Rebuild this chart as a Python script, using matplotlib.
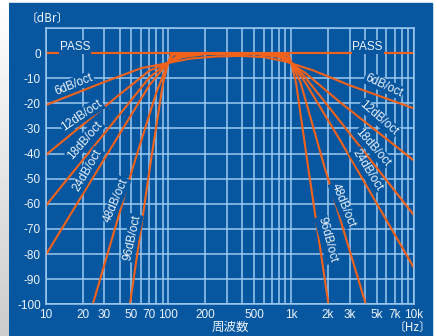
import numpy as np
import matplotlib
matplotlib.use('Agg')
import matplotlib.pyplot as plt
from matplotlib.patches import Rectangle

# filter slopes (dB/oct) and the curves
slopes = [6, 12, 18, 24, 48, 96]

curve_hz = [
    [10, 30, 60, 100, 150, 250, 400, 600, 900, 1500, 3000, 10000],
    [10, 40, 70, 100, 130, 200, 500, 800, 950, 1300, 2500, 10000],
    [10, 40, 70, 100, 125, 200, 600, 850, 1000, 1300, 2500, 10000],
    [10, 40, 70, 100, 120, 200, 700, 880, 1000, 1300, 2500, 10000],
    [24.2, 51.8, 80, 100, 110, 200, 800, 930, 1000, 1200, 1863, 4070],
    [48.6, 71, 90, 100, 105, 200, 900, 960, 1000, 1100, 1374, 2020],
]
curve_db = [
    [-20.7, -11.5, -6.0, -3.9, -2.2, -1.3, -1.1, -1.6, -3.3, -6.8, -12.8, -22.0],
    [-40.6, -16.5, -7.0, -3.8, -1.6, -0.4, -0.3, -1.5, -3.5, -7.8, -19.5, -42.7],
    [-60.8, -24.5, -9.7, -3.6, -1.2, -0.1, -0.2, -1.5, -3.6, -9.5, -27.0, -64.4],
    [-80.4, -32.2, -12.8, -3.6, -0.9, 0.0, 0.0, -1.3, -3.6, -11.5, -34.5, -85.3],
    [-100, -44.9, -15.5, -3.6, -0.5, 0.0, 0.0, -0.8, -3.6, -12.0, -44.9, -100],
    [-100, -44.9, -12.5, -3.6, -0.5, 0.0, 0.0, -0.8, -3.6, -12.0, -44.9, -100],
]

pass_hz = [10, 10000]
pass_db = [0, 0]

# label positions (Hz, dB, rotation) for the slope texts
left_lab_hz = [17.0, 19.8, 20.9, 22.1, 37.4, 50.5]
left_lab_db = [-12.4, -24.8, -34.7, -46.6, -58.5, -73.6]
left_lab_rot = [22, 34, 49, 60, 67, 78]
right_lab_hz = [5715, 5200, 4647, 4155, 2650, 1963]
right_lab_db = [-12.8, -26.0, -37.5, -46.6, -60.5, -74.4]
right_lab_rot = [-25, -41, -49, -58, -68, -75]

grid_hz = [m * 10 ** d for d in (1, 2, 3) for m in range(1, 10)] + [10000]
tick_labels = {10: '10', 20: '20', 30: '30', 50: '50', 70: '70', 100: '100',
               200: '200', 500: '500', 1000: '1k', 2000: '2k', 3000: '3k',
               5000: '5k', 7000: '7k', 10000: '10k'}
db_ticks = list(range(0, -101, -10))

blue = '#0756a0'
orange = '#f2621a'
gridc = '#9dcaf0'
txt = '#eef4fb'
font = 'Liberation Sans'
cjk = ['Noto Sans CJK JP', 'DejaVu Sans']

fig = plt.figure(figsize=(4.36, 3.36), dpi=100, facecolor='white')

# blue panel and grey strip at the left
fig.patches.append(Rectangle((8 / 436, 0), 424 / 436, 333 / 336,
                             transform=fig.transFigure, color=blue, zorder=-10))
strip = fig.add_axes([0, 0, 8 / 436, 1])
grad = np.linspace(1.0, 0.8, 100).reshape(-1, 1)
strip.imshow(grad, cmap='gray', vmin=0, vmax=1, aspect='auto')
strip.axis('off')

ax = fig.add_axes([45.7 / 436, 1 - 304.3 / 336, 368 / 436, 276.3 / 336])
ax.set_zorder(5)
ax.set_facecolor(blue)
ax.set_xscale('log')
ax.set_xlim(10, 10000)
ax.set_ylim(-100, 10)

ax.set_xticks(grid_hz)
ax.set_xticklabels([tick_labels.get(int(round(f)), '') for f in grid_hz])
ax.minorticks_off()
ax.set_yticks(db_ticks + [10])
ax.set_yticklabels([str(v) for v in db_ticks] + [''])
ax.tick_params(length=0, colors=txt, labelsize=8.5, pad=3.5)
for lab in ax.get_xticklabels() + ax.get_yticklabels():
    lab.set_fontfamily(font)
ax.grid(True, color=gridc, linewidth=1.1)
ax.set_axisbelow(True)
for s in ax.spines.values():
    s.set_color(gridc)
    s.set_linewidth(1.1)

ax.plot(pass_hz, pass_db, color=orange, linewidth=1.5, solid_capstyle='butt')
for hz, db in zip(curve_hz, curve_db):
    ax.plot(hz, db, color=orange, linewidth=1.5, clip_on=True)

box = dict(facecolor=blue, edgecolor='none', pad=0.6)
for x in (17.3, 4207):
    ax.text(x, 2.4, 'PASS', color=txt, fontsize=8.5, family=font,
            ha='center', va='center', bbox=box)
for s, x, y, r in zip(slopes, left_lab_hz, left_lab_db, left_lab_rot):
    ax.text(x, y, f'{s}dB/oct', color=txt, fontsize=8.5, family=font,
            rotation=r, rotation_mode='anchor', ha='center', va='center', bbox=box)
for s, x, y, r in zip(slopes, right_lab_hz, right_lab_db, right_lab_rot):
    ax.text(x, y, f'{s}dB/oct', color=txt, fontsize=8.5, family=font,
            rotation=r, rotation_mode='anchor', ha='center', va='center', bbox=box)

fig.text(47 / 436, 1 - 18 / 336, '〔dBr〕', color=txt, fontsize=8.5, family=cjk,
         ha='center', va='center')
fig.text(230 / 436, 1 - 327 / 336, '周波数', color=txt, fontsize=9, family=cjk,
         ha='center', va='center')
fig.text(412 / 436, 1 - 327 / 336, '〔Hz〕', color=txt, fontsize=8.5, family=cjk,
         ha='center', va='center')

fig.savefig('out.png', dpi=100, facecolor='white')
